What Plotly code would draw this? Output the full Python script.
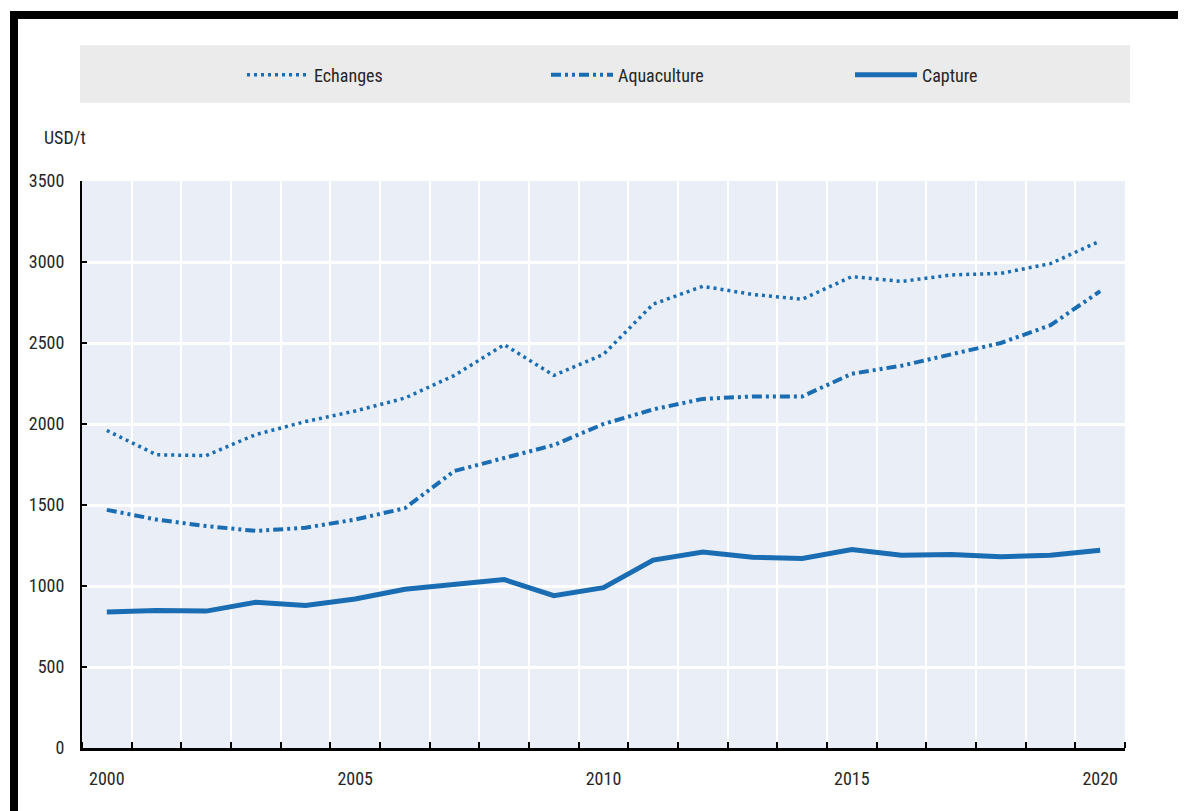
import plotly.graph_objects as go

years = list(range(2000, 2021))
echanges = [1960, 1810, 1805, 1935, 2015, 2080, 2160, 2300, 2490, 2300, 2430,
            2740, 2850, 2800, 2770, 2910, 2880, 2920, 2930, 2990, 3130]
aquaculture = [1470, 1410, 1370, 1340, 1360, 1410, 1480, 1710, 1790, 1870, 2000,
               2090, 2155, 2170, 2170, 2310, 2360, 2430, 2500, 2610, 2820]
capture = [840, 848, 845, 900, 880, 920, 980, 1010, 1040, 940, 990,
           1160, 1210, 1178, 1170, 1225, 1190, 1195, 1180, 1190, 1220]
xlabels = [2000, 2005, 2010, 2015, 2020]
yticks = [0, 500, 1000, 1500, 2000, 2500, 3000, 3500]

BLUE = "#1a6db3"
FONT = "Liberation Sans Narrow, Roboto Condensed, Arial Narrow, Liberation Sans, sans-serif"
TXT = "#262626"

fig = go.Figure()
fig.add_trace(go.Scatter(x=years, y=echanges, name="Echanges", mode="lines",
                         line=dict(color=BLUE, width=3.5, dash="3px,4px")))
fig.add_trace(go.Scatter(x=years, y=aquaculture, name="Aquaculture", mode="lines",
                         line=dict(color=BLUE, width=4, dash="10px,4px,3px,4px,3px,4px")))
fig.add_trace(go.Scatter(x=years, y=capture, name="Capture", mode="lines",
                         line=dict(color=BLUE, width=5)))

OFF = 8  # page body margin
W, H = 1186 - OFF, 811 - OFF
# target screen positions of the plot area
PL, PR, PT, PB = 82, 1125, 181, 748
L, T = PL - OFF, PT - OFF
R, B = W - (PR - OFF), H - (PB - OFF)
pw, ph = W - L - R, H - T - B

def px_x(p):
    return (p - OFF - L) / pw

def px_y(p):
    return (H - B - (p - OFF)) / ph

shapes = [
    # legend band
    dict(type="rect", xref="paper", yref="paper", x0=px_x(80), x1=px_x(1130),
         y0=px_y(103), y1=px_y(45), fillcolor="#ebebeb", line=dict(width=0), layer="below"),
    # black frame top
    dict(type="rect", xref="paper", yref="paper", x0=px_x(10), x1=px_x(1200),
         y0=px_y(19), y1=px_y(11), fillcolor="black", line=dict(width=0)),
    # black frame left
    dict(type="rect", xref="paper", yref="paper", x0=px_x(10), x1=px_x(18),
         y0=px_y(830), y1=px_y(11), fillcolor="black", line=dict(width=0)),
]

fig.update_layout(
    width=W, height=H,
    margin=dict(l=L, r=R, t=T, b=B),
    paper_bgcolor="white",
    plot_bgcolor="#e9eef7",
    font=dict(family=FONT, size=18, color=TXT),
    showlegend=True,
    legend=dict(orientation="h", x=px_x(242), y=px_y(75), xanchor="left", yanchor="middle",
                bgcolor="rgba(0,0,0,0)", entrywidth=227, entrywidthmode="pixels",
                itemwidth=62, font=dict(family=FONT, size=18, color=TXT),
                itemclick=False, itemdoubleclick=False),
    shapes=shapes,
    annotations=[dict(text="USD/t", xref="paper", yref="paper", x=px_x(88), y=px_y(137),
                      xanchor="right", yanchor="middle", showarrow=False,
                      font=dict(family=FONT, size=18, color=TXT))],
    xaxis=dict(range=[1999.5, 2020.5], tickmode="array", tickvals=xlabels,
               ticktext=[str(v) for v in xlabels], ticks="", showgrid=False,
               showline=True, linecolor="black", linewidth=3, zeroline=False,
               ticklabelstandoff=12,
               minor=dict(tick0=1999.5, dtick=1, ticks="inside", ticklen=6, tickwidth=2,
                          tickcolor="black", showgrid=True, gridcolor="white", gridwidth=2)),
    yaxis=dict(range=[0, 3500], tickmode="array", tickvals=yticks, ticks="inside",
               ticklen=5, tickwidth=2, tickcolor="black", showline=True, linecolor="black",
               linewidth=2, showgrid=True, gridcolor="white", gridwidth=3, zeroline=False,
               ticklabelstandoff=12),
)

fig.write_html("out.html")
